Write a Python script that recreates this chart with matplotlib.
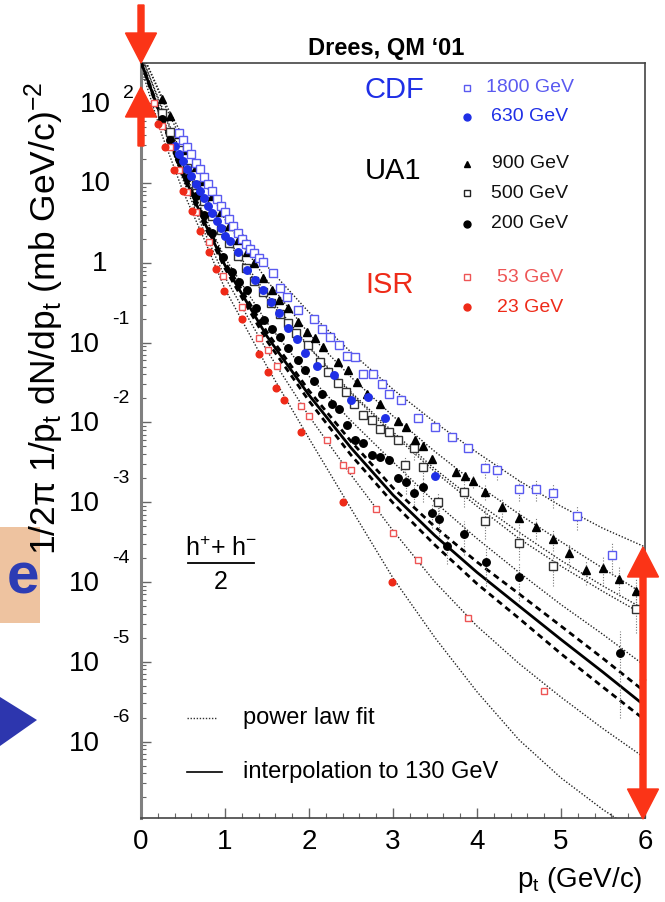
import matplotlib
matplotlib.use("Agg")
import matplotlib.pyplot as plt
import numpy as np
from matplotlib.lines import Line2D
from matplotlib.patches import FancyArrow, Rectangle, Polygon
from matplotlib.transforms import IdentityTransform
from matplotlib.ticker import LogLocator, MultipleLocator, NullFormatter

plt.rcParams['font.family'] = ['Liberation Sans', 'DejaVu Sans']
plt.rcParams['mathtext.fontset'] = 'custom'
plt.rcParams['mathtext.rm'] = 'Liberation Sans'
plt.rcParams['mathtext.it'] = 'Liberation Sans'

# ---- measured spectra, (h+ + h-)/2 ----
cdf1800_pt = [0.45, 0.50, 0.55, 0.60, 0.65, 0.70, 0.75, 0.80, 0.85, 0.90, 0.95, 1.00,
              1.05, 1.10, 1.15, 1.20, 1.25, 1.30, 1.35, 1.40, 1.45, 1.57, 1.65, 1.74,
              1.87, 2.06, 2.15, 2.25, 2.36, 2.45, 2.55, 2.64, 2.76, 2.87, 2.95, 3.10,
              3.30, 3.50, 3.70, 3.89, 4.10, 4.24, 4.50, 4.70, 4.90, 5.19, 5.61]
cdf1800_y = [43, 35, 28, 23, 18, 15, 12, 9.8, 7.9, 6.3, 5.2, 4.3,
             3.5, 2.9, 2.4, 2.0, 1.74, 1.51, 1.32, 1.15, 1.02, 0.74, 0.48, 0.37,
             0.26, 0.20, 0.15, 0.117, 0.093, 0.068, 0.066, 0.041, 0.040, 0.030, 0.023, 0.019,
             0.0114, 8.8e-3, 6.6e-3, 4.8e-3, 2.7e-3, 2.5e-3, 1.47e-3, 1.47e-3, 1.3e-3, 6.8e-4, 2.2e-4]
cdf1800_err = [0.25, 0.25, 0.3, 0.3, 0.35, 0.35, 0.45]

cdf630_pt = [0.40, 0.45, 0.50, 0.55, 0.60, 0.65, 0.70, 0.75, 0.80, 0.85, 0.90, 0.95, 1.00,
             1.06, 1.15, 1.26, 1.36, 1.45, 1.55, 1.64, 1.75, 1.86, 1.95, 2.10, 2.30,
             2.50, 2.70, 2.90, 3.50]
cdf630_y = [29.5, 23.4, 19, 15, 12.3, 9.8, 7.9, 6.5, 5.1, 4.2, 3.3, 2.7, 2.2,
            1.9, 1.37, 0.81, 0.61, 0.46, 0.32, 0.235, 0.152, 0.11, 0.075, 0.051, 0.039,
            0.019, 0.021, 0.0114, 2.1e-3]

ua1_900_pt = [0.25, 0.35, 0.45, 0.55, 0.65, 0.75, 0.85, 0.95, 1.05, 1.15, 1.26, 1.35,
              1.45, 1.56, 1.64, 1.75, 1.87, 1.98, 2.07, 2.17, 2.35, 2.46, 2.57, 2.69,
              2.85, 3.06, 3.15, 3.26, 3.36, 3.46, 3.75, 3.86, 3.95, 4.10, 4.30, 4.50,
              4.70, 4.90, 5.10, 5.30, 5.50, 5.69, 5.89]
ua1_900_y = [112, 69, 41, 26, 16, 10.5, 6.8, 4.4, 2.9, 1.94, 1.36, 1.0,
             0.65, 0.46, 0.34, 0.27, 0.18, 0.135, 0.114, 0.088, 0.057, 0.045, 0.032, 0.023,
             0.017, 0.0104, 8.8e-3, 6.0e-3, 5.0e-3, 3.5e-3, 2.4e-3, 2.1e-3, 1.86e-3, 1.35e-3, 8.7e-4, 6.3e-4,
             4.9e-4, 3.5e-4, 2.3e-4, 1.4e-4, 1.5e-4, 1.1e-4, 7.8e-5]
ua1_900_err = [0.2, 0.2, 0.25, 0.25, 0.3, 0.3, 0.35, 0.35, 0.4, 0.4, 0.45]

ua1_500_pt = [0.25, 0.35, 0.45, 0.55, 0.65, 0.75, 0.85, 0.95, 1.05, 1.15, 1.25, 1.35,
              1.45, 1.55, 1.65, 1.75, 1.85, 1.99, 2.13, 2.23, 2.35, 2.44, 2.54, 2.64,
              2.75, 2.85, 2.95, 3.06, 3.14, 3.25, 3.36, 3.54, 3.85, 4.10, 4.50, 4.90, 5.89]
ua1_500_y = [76, 44, 26, 15.5, 9.5, 6.0, 3.9, 2.6, 1.78, 1.23, 0.85, 0.60,
             0.43, 0.31, 0.23, 0.174, 0.132, 0.093, 0.057, 0.043, 0.031, 0.024, 0.017, 0.0123,
             0.0107, 8.3e-3, 7.6e-3, 6.0e-3, 2.9e-3, 4.8e-3, 2.8e-3, 1.0e-3, 1.35e-3, 5.8e-4, 3.1e-4, 1.6e-4, 4.6e-5]
ua1_500_err = [0.3, 0.3, 0.3, 0.35, 0.35, 0.4, 0.4, 0.45, 0.5]

ua1_200_pt = [0.25, 0.35, 0.45, 0.55, 0.65, 0.75, 0.85, 0.98, 1.08, 1.17, 1.26, 1.37,
              1.46, 1.56, 1.65, 1.75, 1.87, 1.95, 2.06, 2.15, 2.27, 2.36, 2.45, 2.55,
              2.64, 2.75, 2.85, 2.95, 3.06, 3.15, 3.25, 3.36, 3.46, 3.55, 3.64, 3.85,
              4.11, 4.50, 5.70]
ua1_200_y = [63, 35, 20, 11.5, 6.8, 4.0, 2.4, 1.17, 0.77, 0.57, 0.46, 0.27,
             0.19, 0.15, 0.117, 0.085, 0.060, 0.045, 0.033, 0.023, 0.017, 0.0147, 9.3e-3, 6.0e-3,
             5.6e-3, 3.9e-3, 3.7e-3, 3.4e-3, 2.0e-3, 1.8e-3, 1.3e-3, 1.55e-3, 7.3e-4, 6.2e-4, 2.8e-4, 4.0e-4,
             1.8e-4, 1.15e-4, 1.3e-5]
ua1_200_err = [0.3, 0.3, 0.35, 0.35, 0.4, 0.4, 0.45, 0.5, 0.5, 0.85]

isr53_pt = [0.15, 0.25, 0.35, 0.45, 0.55, 0.65, 0.81, 0.98, 1.20, 1.40, 1.51, 1.62,
            1.90, 2.00, 2.21, 2.40, 2.50, 2.80, 3.00, 3.30, 3.89, 4.80]
isr53_y = [100, 52, 28, 14.5, 7.8, 4.4, 1.8, 0.68, 0.28, 0.115, 0.081, 0.051,
           0.016, 0.012, 6.0e-3, 2.9e-3, 2.5e-3, 8.1e-4, 4.1e-4, 1.9e-4, 3.5e-5, 4.3e-6]

isr23_pt = [0.20, 0.29, 0.39, 0.50, 0.61, 0.70, 0.81, 0.89, 0.99, 1.20, 1.40, 1.51,
            1.61, 1.70, 1.90, 2.40, 2.99]
isr23_y = [55, 28, 14.6, 7.9, 4.5, 2.5, 1.36, 0.83, 0.45, 0.20, 0.072, 0.043,
           0.027, 0.019, 7.6e-3, 1.0e-3, 1.0e-4]

# ---- power law fits and the 130 GeV interpolation, read on a pt grid ----
fit_pt = [0, 0.25, 0.5, 0.75, 1.0, 1.5, 2.0, 2.5, 3.0, 3.5, 4.0, 4.5, 5.0, 5.5, 6.0]
fit_1800 = [457, 120, 38, 12.6, 4.4, 0.91, 0.24, 0.076, 0.026, 0.010, 4.2e-3, 1.86e-3, 8.9e-4, 4.7e-4, 2.75e-4]
fit_900 = [457, 112, 32, 10.5, 3.5, 0.60, 0.129, 0.037, 0.012, 4.3e-3, 1.66e-3, 7.1e-4, 3.2e-4, 1.48e-4, 6.9e-5]
fit_630 = [398, 89, 21, 6.5, 2.2, 0.40, 0.089, 0.024, 7.6e-3, 2.6e-3, 1.0e-3, 4.2e-4, 1.86e-4, 8.9e-5, 4.5e-5]
fit_500 = [417, 83, 20, 6.0, 2.1, 0.355, 0.087, 0.023, 7.1e-3, 2.4e-3, 8.9e-4, 3.5e-4, 1.58e-4, 7.6e-5, 3.8e-5]
fit_200 = [355, 69, 15, 4.0, 1.15, 0.178, 0.038, 0.0105, 3.2e-3, 1.0e-3, 3.5e-4, 1.32e-4, 5.2e-5, 2.2e-5, 8.9e-6]
fit_53 = [355, 58, 11, 2.5, 0.66, 0.079, 0.012, 2.2e-3, 4.4e-4, 1.0e-4, 2.8e-5, 9.5e-6, 3.6e-6, 1.45e-6, 6.2e-7]
fit_23 = [282, 40, 7.9, 2.0, 0.47, 0.050, 6.3e-3, 8.3e-4, 1.12e-4, 2.0e-5, 4.2e-6, 1.05e-6, 3.5e-7, 1.4e-7, 6.3e-8]
interp_130 = [331, 63, 13.2, 3.3, 0.93, 0.120, 0.022, 4.8e-3, 1.23e-3, 3.8e-4, 1.32e-4, 5.0e-5, 1.9e-5, 7.4e-6, 2.8e-6]
interp_130_hi = [339, 66, 14.1, 3.6, 1.02, 0.135, 0.025, 5.8e-3, 1.51e-3, 4.9e-4, 1.78e-4, 7.1e-5, 2.8e-5, 1.1e-5, 4.2e-6]
interp_130_lo = [324, 60, 12.3, 3.0, 0.85, 0.105, 0.0186, 3.9e-3, 9.8e-4, 2.9e-4, 9.5e-5, 3.5e-5, 1.26e-5, 4.8e-6, 1.86e-6]

y_exponents = [2, 1, 0, -1, -2, -3, -4, -5, -6]

W, H = 665, 902
BLUE = '#1f2fe6'
LBLUE = '#5a5af0'
RED = '#ee2a18'
LRED = '#ee5555'
ARROW = '#fb3417'


def fx(x):
    return x / W


def fy(y):
    return 1 - y / H


def tail_err(y, frac):
    # fractional errors on the last len(frac) points only
    e = np.zeros(len(y))
    e[len(y) - len(frac):] = frac
    return np.array(y) * e


fig = plt.figure(figsize=(W / 100, H / 100), dpi=100)
ax = fig.add_axes([fx(141), fy(818), (645 - 141) / W, (818 - 63) / H])
ax.set_yscale('log')
ax.set_xlim(0, 6)
ax.set_ylim(1.1e-7, 320)

dot = dict(ls=(0, (1, 1.3)), lw=1.0, color='#222222', zorder=2)
for f in [fit_1800, fit_900, fit_630, fit_500, fit_200, fit_53, fit_23]:
    ax.plot(fit_pt, f, **dot)
ax.plot(fit_pt, interp_130_hi, ls=(0, (2.2, 1.6)), lw=2.0, color='black', zorder=3)
ax.plot(fit_pt, interp_130_lo, ls=(0, (2.2, 1.6)), lw=2.0, color='black', zorder=3)
ax.plot(fit_pt, interp_130, ls='-', lw=2.0, color='black', zorder=3)

ebar = dict(fmt='none', ecolor='#777777', elinewidth=0.8, capsize=0, zorder=3)
for pts, ys, fr in [(cdf1800_pt, cdf1800_y, cdf1800_err), (ua1_900_pt, ua1_900_y, ua1_900_err),
                    (ua1_500_pt, ua1_500_y, ua1_500_err), (ua1_200_pt, ua1_200_y, ua1_200_err)]:
    eb = ax.errorbar(pts, ys, yerr=tail_err(ys, fr), **ebar)
    eb[2][0].set_linestyle((0, (1, 1.5)))

ms = dict(ls='none', zorder=4)
ax.plot(ua1_500_pt, ua1_500_y, marker='s', ms=5.4, mfc='white', mec='#333333', mew=1.0, **ms)
ax.plot(ua1_200_pt, ua1_200_y, marker='o', ms=5.4, color='black', **ms)
ax.plot(ua1_900_pt, ua1_900_y, marker='^', ms=5.6, color='black', **ms)
ax.plot(cdf630_pt, cdf630_y, marker='o', ms=5.4, color=BLUE, **ms)
ax.plot(cdf1800_pt, cdf1800_y, marker='s', ms=5.4, mfc='white', mec=LBLUE, mew=1.0, **ms)
ax.plot(isr53_pt, isr53_y, marker='s', ms=4.8, mfc='white', mec=LRED, mew=1.0, **ms)
ax.plot(isr23_pt, isr23_y, marker='o', ms=4.8, color=RED, **ms)

# frame and ticks, ROOT style
for side in ['top', 'right', 'bottom']:
    ax.spines[side].set_color('#444444')
    ax.spines[side].set_linewidth(1.2)
ax.spines['left'].set_color('#808080')
ax.spines['left'].set_linewidth(2.2)
ax.xaxis.set_major_locator(MultipleLocator(1))
ax.xaxis.set_minor_locator(MultipleLocator(0.2))
ax.yaxis.set_major_locator(LogLocator(base=10, numticks=20))
ax.yaxis.set_minor_locator(LogLocator(base=10, subs=np.arange(2, 10), numticks=20))
ax.yaxis.set_major_formatter(NullFormatter())
ax.yaxis.set_minor_formatter(NullFormatter())
ax.tick_params(axis='both', which='both', direction='in', color='#666666', top=False, right=False)
ax.tick_params(axis='both', which='major', length=7, width=1.0)
ax.tick_params(axis='both', which='minor', length=3.5, width=0.8)
ax.tick_params(axis='x', which='major', labelsize=20, pad=8)

# y tick labels as 10 with a raised exponent
for e in y_exponents:
    if e == 0:
        ax.annotate('1', xy=(0, 1), xycoords=('axes fraction', 'data'), xytext=(-24, -1),
                    textcoords='offset points', ha='right', va='center', fontsize=20)
    elif e == 1:
        ax.annotate('10', xy=(0, 10), xycoords=('axes fraction', 'data'), xytext=(-22, -1),
                    textcoords='offset points', ha='right', va='center', fontsize=20)
    else:
        x10 = -22 if e > 0 else -29.5
        dy = 7 if e > 0 else 17
        ax.annotate('10', xy=(0, 10.0 ** e), xycoords=('axes fraction', 'data'), xytext=(x10, -1.5),
                    textcoords='offset points', ha='right', va='center', fontsize=20)
        ax.annotate(str(e), xy=(0, 10.0 ** e), xycoords=('axes fraction', 'data'),
                    xytext=(x10 + 9, dy), textcoords='offset points', ha='left', va='center',
                    fontsize=14)

fig.text(fx(44), fy(318), r'1/2$\pi$ 1/p$_{\rm t}$ dN/dp$_{\rm t}$ (mb GeV/c)$^{-2}$',
         rotation=90, ha='center', va='center', fontsize=25.5)
fig.text(fx(643), fy(880), r'p$_{\rm t}$ (GeV/c)', ha='right', va='center', fontsize=20)
fig.text(fx(386), fy(48), 'Drees, QM \u201801', ha='center', va='center', fontsize=17,
         fontweight='bold')

# legend block
groups = [('CDF', BLUE, 90), ('UA1', 'black', 171), ('ISR', RED, 285)]
for name, c, y in groups:
    fig.text(fx(365), fy(y), name, color=c, fontsize=21, ha='left', va='center')
entries = [('1800 GeV', LBLUE, 88, dict(marker='s', mfc='white', mec=LBLUE, mew=1.0, ms=5)),
           ('630 GeV', BLUE, 117, dict(marker='o', color=BLUE, ms=5)),
           ('900 GeV', '#111111', 164, dict(marker='^', color='black', ms=5)),
           ('500 GeV', '#111111', 193, dict(marker='s', mfc='white', mec='#222222', mew=1.0, ms=5)),
           ('200 GeV', '#111111', 224, dict(marker='o', color='black', ms=5)),
           ('53 GeV', LRED, 277, dict(marker='s', mfc='white', mec=LRED, mew=1.0, ms=5)),
           ('23 GeV', RED, 307, dict(marker='o', color=RED, ms=5))]
for label, c, y, mk in entries:
    fig.add_artist(Line2D([fx(467)], [fy(y)], transform=fig.transFigure, **mk))
    fig.text(fx(530), fy(y), label, color=c, fontsize=14, ha='center', va='center')

# (h+ + h-)/2
fig.text(fx(221), fy(549), r'h$^{+}$+ h$^{-}$', fontsize=18, ha='center', va='center')
fig.add_artist(Line2D([fx(188), fx(254)], [fy(563), fy(563)], transform=fig.transFigure,
                      color='black', lw=1.3))
fig.text(fx(221), fy(582), '2', fontsize=18, ha='center', va='center')

# line legend
fig.add_artist(Line2D([fx(187), fx(216)], [fy(718), fy(718)], transform=fig.transFigure,
                      ls=(0, (1, 1.2)), lw=1.0, color='#333333'))
fig.text(fx(243), fy(718), 'power law fit', fontsize=17, ha='left', va='center')
fig.add_artist(Line2D([fx(187), fx(222)], [fy(772), fy(772)], transform=fig.transFigure,
                      lw=1.2, color='black'))
fig.text(fx(243), fy(772), 'interpolation to 130 GeV', fontsize=17, ha='left', va='center')

# slide decorations around the plot
fig.add_artist(Rectangle((0, fy(623)), fx(40), (623 - 527) / H, transform=fig.transFigure,
                         facecolor='#eec3a0', edgecolor='none'))
fig.text(fx(39), fy(579), 'e', color='#2c3cb4', fontsize=42, fontweight='bold',
         ha='right', va='center')
fig.add_artist(Polygon([(0, fy(697)), (fx(37), fy(720)), (0, fy(746))], closed=True,
                       transform=fig.transFigure, facecolor='#2d36ae', edgecolor='none'))

px = IdentityTransform()


def red_arrow(x, y0, y1):
    # arrow from y0 to tip at y1, in image pixels (y downwards)
    a = FancyArrow(x, H - y0, 0, -(y1 - y0), width=6, head_width=31, head_length=30,
                   length_includes_head=True, transform=px, color=ARROW, zorder=10)
    fig.add_artist(a)


red_arrow(141, 5, 63)
red_arrow(141, 146, 87)
red_arrow(643, 680, 547)
red_arrow(643, 680, 819)

fig.savefig('out.png', dpi=100)
